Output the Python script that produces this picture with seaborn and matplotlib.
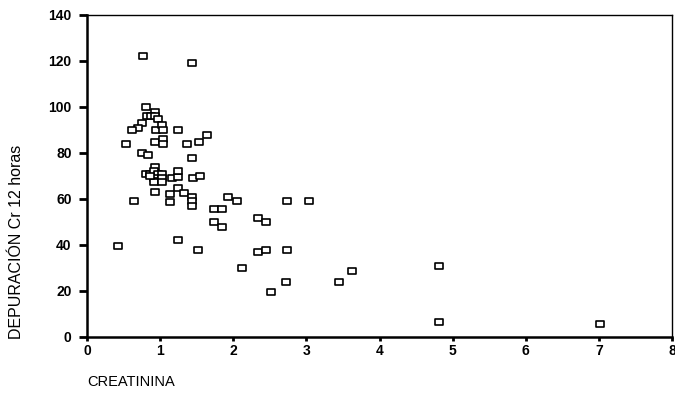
import matplotlib
matplotlib.use("Agg")
import matplotlib.pyplot as plt
from matplotlib.path import Path
import seaborn as sns
import pandas as pd

creatinina = [0.76, 1.44, 0.81, 0.93, 0.82, 0.88, 0.93, 0.97, 0.75, 0.70, 0.62, 0.95,
              1.03, 1.04, 1.25, 1.64, 0.53, 0.93, 1.04, 1.04, 1.37, 1.53, 0.75, 0.84,
              1.43, 0.93, 0.80, 0.86, 0.92, 0.97, 1.03, 0.92, 0.97, 1.03, 0.92, 1.03,
              0.86, 1.16, 1.25, 1.25, 1.45, 1.54, 0.93, 0.64, 1.13, 1.13, 1.25, 1.33,
              1.43, 1.43, 1.43, 1.93, 2.05, 2.74, 3.03, 1.73, 1.84, 1.73, 1.84, 2.34,
              2.45, 1.24, 0.42, 1.52, 2.34, 2.45, 2.74, 2.12, 3.63, 2.72, 3.45, 2.51,
              4.82, 4.82, 7.02]
depuracion = [122, 119, 100, 98, 96, 96, 96, 95, 93, 91, 90, 90,
              92, 90, 90, 88, 84, 85, 86, 84, 84, 85, 80, 79,
              78, 74, 71, 71, 72, 71, 71, 69, 68, 69, 67.5, 67.5,
              70, 69, 69.5, 72, 69, 70, 63, 59, 62, 58.5, 65, 62.7,
              61, 59, 57, 60.7, 59.3, 59.3, 59.3, 55.7, 55.7, 49.9, 47.7, 51.9,
              49.9, 42, 39.6, 37.8, 37.1, 37.8, 37.8, 29.9, 28.8, 23.8, 23.8, 19.7,
              30.9, 6.7, 5.5]

x_ticks = [0, 1, 2, 3, 4, 5, 6, 7, 8]
y_ticks = [0, 20, 40, 60, 80, 100, 120, 140]
x_label = "CREATININA"
y_label = "DEPURACIÓN Cr 12 horas"

df = pd.DataFrame({"creatinina": creatinina, "depuracion": depuracion})

sns.set_style("white")
plt.rcParams["font.family"] = ["Liberation Sans", "DejaVu Sans"]
plt.rcParams["text.color"] = "black"
plt.rcParams["axes.labelcolor"] = "black"

fig = plt.figure(figsize=(6.75, 3.94), dpi=100)
ax = fig.add_axes([87 / 675, 1 - 337 / 394, (672 - 87) / 675, (337 - 15) / 394])

rect = Path([(-1.0, -0.7), (1.0, -0.7), (1.0, 0.7), (-1.0, 0.7), (-1.0, -0.7)],
            [Path.MOVETO, Path.LINETO, Path.LINETO, Path.LINETO, Path.CLOSEPOLY])

sns.scatterplot(data=df, x="creatinina", y="depuracion", ax=ax, marker=rect, s=30,
                facecolor="white", edgecolor="black", linewidth=1.2, zorder=3)

ax.set_xlim(0, 8)
ax.set_ylim(0, 140)
ax.set_xticks(x_ticks)
ax.set_yticks(y_ticks)
ax.set_xticklabels([str(t) for t in x_ticks], fontweight="bold", fontsize=10)
ax.set_yticklabels([str(t) for t in y_ticks], fontweight="bold", fontsize=10)
ax.tick_params(axis="y", direction="out", length=6, width=2, pad=5, colors="black", left=True)
ax.tick_params(axis="x", direction="out", length=3, width=2, pad=2, colors="black", bottom=True)

for side in ["left", "bottom"]:
    ax.spines[side].set_linewidth(1.8)
    ax.spines[side].set_color("black")
for side in ["top", "right"]:
    ax.spines[side].set_linewidth(1.0)
    ax.spines[side].set_color("black")

ax.set_xlabel(x_label, loc="left", fontsize=10.5, labelpad=12, color="black")
ax.set_ylabel(y_label, fontsize=11.5, color="black")
ax.yaxis.set_label_coords(-0.108, 0.295)
ax.grid(False)

fig.savefig("out.png", dpi=100, facecolor="white")
